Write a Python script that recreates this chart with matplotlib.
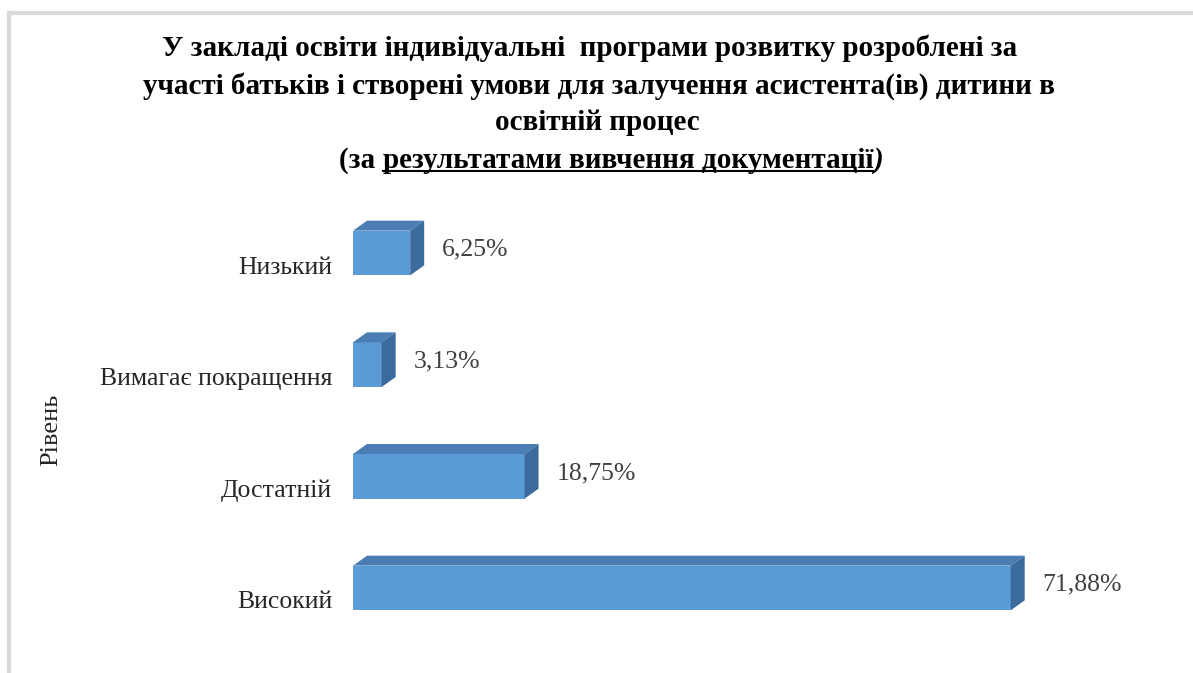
import matplotlib
matplotlib.use("Agg")
import matplotlib.pyplot as plt
from matplotlib.patches import Polygon, Rectangle
from matplotlib.transforms import ScaledTranslation
import numpy as np

# data (bottom to top as drawn)
levels = ["Високий", "Достатній", "Вимагає покращення", "Низький"]
shares = [71.88, 18.75, 3.13, 6.25]
share_labels = ["71,88%", "18,75%", "3,13%", "6,25%"]

title_lines = [
    "У закладі освіти індивідуальні  програми розвитку розроблені за",
    "участі батьків і створені умови для залучення асистента(ів) дитини в",
    "освітній процес",
]
title_tail = ["(за ", "результатами вивчення документації", ")"]

front_c = "#5b9bd5"
top_c = "#4a7db3"
side_c = "#3b6a9c"
txt_c = "#262626"

plt.rcParams['font.family'] = ['Liberation Serif', 'DejaVu Serif']

W, H = 1193, 673
fig = plt.figure(figsize=(W / 100, H / 100), dpi=100)

# axes placed in pixel terms: x=0 at 353px, 9.15 px per %
px_per_pct = 9.15
xmax = 80
ax_left = 353 / W
ax_w = xmax * px_per_pct / W
ax_bottom = 18 / H
ax_h = 469 / H
ax = fig.add_axes([ax_left, ax_bottom, ax_w, ax_h])
ax.set_xlim(0, xmax)
ax.set_ylim(-0.6, 3.6)

ypos = np.arange(len(levels))
bh = 0.40
# depth of the 3D look, in data units
dx = 14 / px_per_pct
dy = 10 / (469 / 4.2)

for y, v in zip(ypos, shares):
    y0, y1 = y - bh / 2, y + bh / 2
    ax.add_patch(Rectangle((0, y0), v, bh, fc=front_c, ec="none", zorder=3))
    ax.add_patch(Polygon([(0, y1), (v, y1), (v + dx, y1 + dy), (dx, y1 + dy)],
                         closed=True, fc=top_c, ec="none", zorder=3))
    ax.add_patch(Polygon([(v, y0), (v, y1), (v + dx, y1 + dy), (v + dx, y0 + dy)],
                         closed=True, fc=side_c, ec="none", zorder=3))

for y, v, lab in zip(ypos, shares, share_labels):
    ax.text(v + dx + 18 / px_per_pct, y + 0.03, lab, va="center", ha="left",
            fontsize=18.5, color="#404040")

ax.set_yticks(ypos)
ax.set_yticklabels(levels, fontsize=18.5, color=txt_c)
ax.tick_params(axis="y", length=0, pad=15)
off = ScaledTranslation(0, -0.12, fig.dpi_scale_trans)
for lab in ax.get_yticklabels():
    lab.set_transform(lab.get_transform() + off)
ax.set_xticks([])
for s in ax.spines.values():
    s.set_visible(False)
ax.patch.set_alpha(0)

fig.text(51 / W, 1 - 430 / H, "Рівень", rotation=90, ha="center", va="center",
         fontsize=19, color=txt_c)

# outer frame (cropped screenshot border)
fig.add_artist(Rectangle((9 / W, -0.1), 1.2, (H - 13) / H + 0.1, fill=False,
                         ec="#d9d9d9", lw=3, transform=fig.transFigure))

# title
tfs = 21
line_y = [48, 86, 122]
line_x = [590, 599, 597]
for lx, ly, t in zip(line_x, line_y, title_lines):
    fig.text(lx / W, 1 - ly / H, t, ha="center", va="center", fontsize=tfs,
             fontweight="bold", color="black")

fig.canvas.draw()
r = fig.canvas.get_renderer()
styles = ["normal", "normal", "italic"]
parts = []
for t, st in zip(title_tail, styles):
    p = fig.text(0, 1 - 160 / H, t, ha="left", va="center", fontsize=tfs,
                 fontweight="bold", fontstyle=st, color="black")
    parts.append(p)
widths = [p.get_window_extent(r).width for p in parts]
x = 611 - sum(widths) / 2
for p, w in zip(parts, widths):
    p.set_x(x / W)
    x += w
fig.canvas.draw()
bb = parts[1].get_window_extent(r)
uy = (bb.y0 + 3) / H
fig.add_artist(plt.Line2D([bb.x0 / W, bb.x1 / W], [uy, uy], color="black",
                          lw=1.5, transform=fig.transFigure))

fig.savefig("out.png", dpi=100)
